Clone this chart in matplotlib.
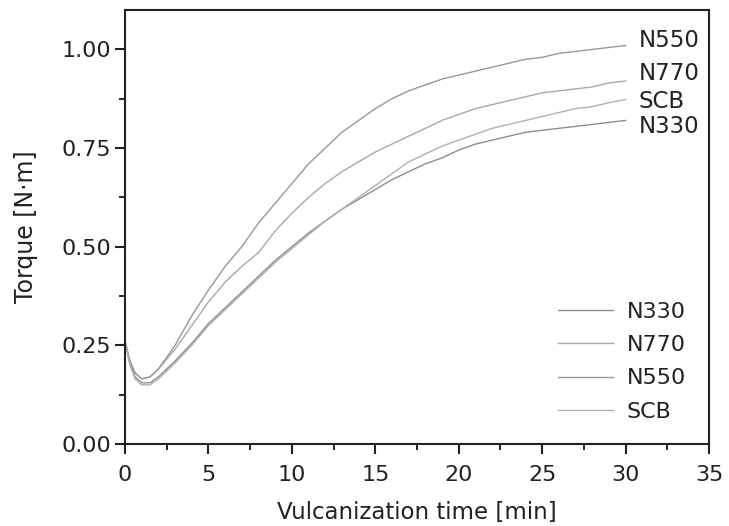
import matplotlib
matplotlib.use("Agg")
import matplotlib.pyplot as plt
from matplotlib.ticker import MultipleLocator

plt.rcParams["font.family"] = ["DejaVu Sans"]

# vulcanization time [min]
t = [0, 0.3, 0.6, 1.0, 1.5, 2, 3, 4, 5, 6, 7, 8, 9, 10, 11, 12, 13, 14, 15,
     16, 17, 18, 19, 20, 21, 22, 23, 24, 25, 26, 27, 28, 29, 30]

# torque [N.m]
n330 = [0.26, 0.20, 0.17, 0.155, 0.155, 0.17, 0.21, 0.255, 0.305, 0.345, 0.385,
        0.425, 0.465, 0.50, 0.535, 0.565, 0.595, 0.62, 0.645, 0.67, 0.69, 0.71,
        0.725, 0.745, 0.76, 0.77, 0.78, 0.79, 0.795, 0.80, 0.805, 0.81, 0.815, 0.82]
n770 = [0.26, 0.21, 0.18, 0.165, 0.17, 0.19, 0.24, 0.30, 0.36, 0.41, 0.45,
        0.485, 0.54, 0.585, 0.625, 0.66, 0.69, 0.715, 0.74, 0.76, 0.78, 0.80,
        0.82, 0.835, 0.85, 0.86, 0.87, 0.88, 0.89, 0.895, 0.90, 0.905, 0.915, 0.92]
n550 = [0.26, 0.21, 0.18, 0.165, 0.17, 0.19, 0.25, 0.325, 0.39, 0.45, 0.50,
        0.56, 0.61, 0.66, 0.71, 0.75, 0.79, 0.82, 0.85, 0.875, 0.895, 0.91,
        0.925, 0.935, 0.945, 0.955, 0.965, 0.975, 0.98, 0.99, 0.995, 1.0, 1.005, 1.01]
scb = [0.26, 0.20, 0.165, 0.15, 0.15, 0.165, 0.205, 0.25, 0.30, 0.34, 0.38,
       0.42, 0.46, 0.495, 0.53, 0.565, 0.595, 0.625, 0.655, 0.685, 0.715, 0.735,
       0.755, 0.77, 0.785, 0.80, 0.81, 0.82, 0.83, 0.84, 0.85, 0.855, 0.865, 0.873]

fig = plt.figure(figsize=(7.29, 5.26), dpi=100)
ax = fig.add_axes([0.1715, 0.156, 0.801, 0.825])

ax.plot(t, n330, color="#8e8e8e", lw=1.0, label="N330")
ax.plot(t, n770, color="#a8a8a8", lw=1.0, label="N770")
ax.plot(t, n550, color="#989898", lw=1.0, label="N550")
ax.plot(t, scb, color="#b0b0b0", lw=1.0, label="SCB")

# labels at the curve ends
txt = "#222222"
ax.text(30.8, 1.023, "N550", fontsize=16.5, va="center", color=txt)
ax.text(30.8, 0.94, "N770", fontsize=16.5, va="center", color=txt)
ax.text(30.8, 0.868, "SCB", fontsize=16.5, va="center", color=txt)
ax.text(30.8, 0.805, "N330", fontsize=16.5, va="center", color=txt)

ax.set_xlim(0, 35)
ax.set_ylim(0, 1.1)
ax.xaxis.set_major_locator(MultipleLocator(5))
ax.xaxis.set_minor_locator(MultipleLocator(2.5))
ax.yaxis.set_minor_locator(MultipleLocator(0.125))
ax.set_yticks([0, 0.25, 0.5, 0.75, 1.0])
ax.set_yticklabels(["0.00", "0.25", "0.50", "0.75", "1.00"])

ax.tick_params(which="major", direction="out", length=7, width=1.5, labelsize=16,
               colors=txt, top=False, right=False, pad=3)
ax.tick_params(axis="x", which="major", pad=8)
ax.tick_params(which="minor", direction="out", length=4, width=1.2,
               top=False, right=False)
for s in ax.spines.values():
    s.set_linewidth(1.5)
    s.set_color(txt)

ax.set_xlabel("Vulcanization time [min]", fontsize=16.5, color=txt, labelpad=12)
ax.set_ylabel("Torque [N\u00b7m]", fontsize=17, color=txt, labelpad=17)

ax.legend(loc="lower right", bbox_to_anchor=(0.995, 0.005), frameon=False,
          fontsize=16, handlelength=2.5, handletextpad=0.6, labelspacing=0.6,
          labelcolor=txt)

fig.savefig("out.png", dpi=100)
